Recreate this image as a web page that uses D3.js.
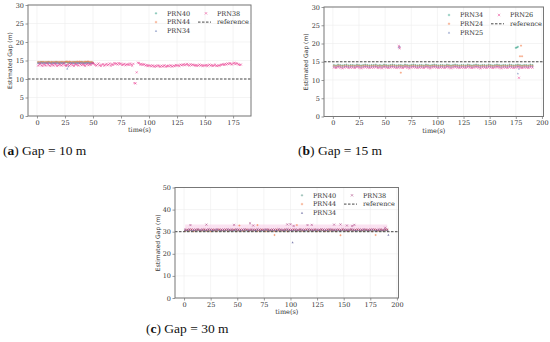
<!DOCTYPE html>
<html>
<head>
<meta charset="utf-8">
<script src="https://cdn.jsdelivr.net/npm/d3@7"></script>
<style>
  body { margin: 0; background: #fff; }
  svg { display: block; }
  .tick text { font-family: "DejaVu Serif", serif; font-size: 6.5px; fill: #333; }
</style>
</head>
<body>
<svg id="fig" width="550" height="342"></svg>
<script>
// ---------------- data ----------------
// (a) Gap = 10 m, sampled every 1 s starting at t = 1
const a_PRN40 = [14.5,14.4,14.5,14.6,14.5,14.5,14.4,14.5,14.5,14.6,14.5,14.4,14.5,14.5,14.4,14.5,14.6,14.5,14.5,14.4,14.5,14.5,14.4,14.5,14.5,14.6,14.5,14.4,14.5,14.5,14.4,14.5,14.5,14.6,14.5,14.5,14.4,14.5,14.5,14.6,14.5,14.4,14.5,14.5,14.6,14.5,14.4,14.5,14.5,14.4];
const a_PRN44 = [14.6,14.5,14.6,14.5,14.6,14.6,14.5,14.6,14.5,14.6,14.6,14.5,14.6,14.5,14.6,14.5,14.6,14.6,14.5,14.6,14.5,14.6,14.6,14.5,14.6,14.7,14.7,14.6,14.7,14.6,14.5,14.6,14.6,14.5,14.6,14.7,14.6,14.7,14.6,14.6,14.5,14.6,14.7,14.6,14.7,14.7,14.6,14.5,14.6,14.4];
const a_PRN34 = [14.3,14.4,14.3,14.4,14.3,14.4,14.4,14.3,14.4,14.3,14.4,14.3,14.2,14.4,14.3,14.4,14.3,14.4,14.3,14.2,14.4,14.3,14.4,14.3,14.4,13.9,12.8,13.4,14.3,14.4,14.3,14.4,14.3,14.2,14.4,14.3,14.4,14.3,14.4,14.3,14.4,14.3,14.2,14.4,14.3,14.4,14.3,14.2,14.3,14.3];
const a_PRN38 = [13.6,13.9,14.1,13.7,13.5,14.0,13.8,13.6,14.2,13.9,
  13.7,13.5,14.0,13.8,13.6,14.1,13.9,13.5,13.7,14.0,
  13.8,13.6,13.9,14.2,13.7,13.5,13.8,14.0,13.6,13.9,
  14.1,13.7,13.5,13.9,14.0,13.8,13.6,14.2,13.9,13.7,
  14.0,13.8,13.5,13.9,14.1,13.7,14.0,13.8,14.2,14.3,
  14.1,13.8,13.6,13.9,14.2,13.7,13.5,13.9,14.0,13.6,
  13.8,14.1,13.7,13.9,14.2,13.6,14.0,13.8,14.3,14.1,
  14.2,13.9,14.3,14.0,14.2,13.8,13.9,14.1,13.7,13.9,
  14.0,13.8,14.2,13.9,13.6,14.1,8.9,8.8,11.8,14.4,
  14.3,13.9,14.1,13.8,14.0,13.9,13.6,13.8,13.5,13.7,
  13.6,13.4,13.7,13.5,13.3,13.6,13.4,13.7,13.5,13.3,
  13.6,13.4,13.5,13.7,13.3,13.5,13.6,13.4,13.7,13.5,
  13.4,13.6,13.5,13.8,13.6,13.7,13.5,13.9,13.7,13.8,
  14.0,13.7,13.9,14.1,13.8,13.6,14.0,13.7,13.9,13.8,
  13.6,13.8,13.5,13.7,13.9,13.6,13.8,13.5,13.7,13.6,
  13.8,13.5,13.7,13.9,13.6,13.8,13.5,13.7,13.9,13.6,
  13.5,13.7,13.6,13.8,13.9,14.0,13.8,14.1,13.9,14.2,
  14.0,14.3,14.1,13.9,14.2,14.4,14.0,14.3,14.1,13.9,
  13.8,13.9];

// (b) Gap = 15 m, every 2 s starting at t = 1
const b_PRN34 = [14.1,14.0,14.2,14.1,14.0,14.1,14.2,14.0,14.1,14.1,14.0,14.2,14.1,14.0,14.1,14.2,14.1,14.0,14.1,14.1,14.2,14.0,14.1,14.0,14.2,14.1,14.0,14.1,14.2,14.1,14.0,14.1,
  14.1,14.0,14.2,14.1,14.0,14.1,14.2,14.1,14.0,14.1,14.1,14.0,14.2,14.1,14.0,14.1,14.2,14.1,14.0,14.1,14.1,14.0,14.2,14.1,14.0,14.1,14.2,14.1,14.0,14.1,14.1,14.0,
  14.2,14.1,14.0,14.1,14.2,14.1,14.0,14.1,14.1,14.0,14.2,14.1,14.0,14.1,14.2,14.1,14.0,14.1,14.1,14.0,14.2,14.1,14.0,14.1,14.2,14.1,14.0,14.1,14.1,14.0,14.2,14.1];
const b_PRN24 = [13.9,13.8,14.0,13.9,13.8,13.9,14.0,13.8,13.9,13.9,13.8,14.0,13.9,13.8,13.9,14.0,13.9,13.8,13.9,13.9,14.0,13.8,13.9,13.8,14.0,13.9,13.8,13.9,14.0,13.9,13.8,13.9,
  13.9,13.8,14.0,13.9,13.8,13.9,14.0,13.9,13.8,13.9,13.9,13.8,14.0,13.9,13.8,13.9,14.0,13.9,13.8,13.9,13.9,13.8,14.0,13.9,13.8,13.9,14.0,13.9,13.8,13.9,13.9,13.8,
  14.0,13.9,13.8,13.9,14.0,13.9,13.8,13.9,13.9,13.8,14.0,13.9,13.8,13.9,14.0,13.9,13.8,13.9,13.9,13.8,14.0,13.9,13.8,13.9,14.0,13.9,13.8,13.9,13.9,13.8,14.0,13.9];
const b_PRN25 = [13.7,13.6,13.8,13.7,13.6,13.7,13.8,13.6,13.7,13.7,13.6,13.8,13.7,13.6,13.7,13.8,13.7,13.6,13.7,13.7,13.8,13.6,13.7,13.6,13.8,13.7,13.6,13.7,13.8,13.7,13.6,13.7,
  13.7,13.6,13.8,13.7,13.6,13.7,13.8,13.7,13.6,13.7,13.7,13.6,13.8,13.7,13.6,13.7,13.8,13.7,13.6,13.7,13.7,13.6,13.8,13.7,13.6,13.7,13.8,13.7,13.6,13.7,13.7,13.6,
  13.8,13.7,13.6,13.7,13.8,13.7,13.6,13.7,13.7,13.6,13.8,13.7,13.6,13.7,13.8,13.7,13.6,13.7,13.7,13.6,13.8,13.7,13.6,13.7,13.8,13.7,13.6,13.7,13.7,13.6,13.8,13.7];
const b_PRN26 = [13.4,13.3,13.5,13.4,13.2,13.4,13.5,13.3,13.4,13.4,13.3,13.5,13.4,13.2,13.4,13.5,13.4,13.3,13.4,13.4,13.5,13.3,13.4,13.2,13.5,13.4,13.3,13.4,13.5,13.4,13.3,13.4,
  13.4,13.3,13.5,13.4,13.2,13.4,13.5,13.4,13.3,13.4,13.4,13.3,13.5,13.4,13.2,13.4,13.5,13.4,13.3,13.4,13.4,13.3,13.5,13.4,13.2,13.4,13.5,13.4,13.3,13.4,13.4,13.3,
  13.5,13.4,13.3,13.4,13.5,13.4,13.2,13.4,13.4,13.3,13.5,13.4,13.3,13.4,13.5,13.4,13.2,13.4,13.4,13.3,13.5,13.4,13.3,13.4,13.5,13.4,13.3,13.4,13.4,13.3,13.5,13.4];
// outliers in (b): [time, value]
const b_PRN34_out = [[175,18.8],[176,18.9],[177,19.1]];
const b_PRN24_out = [[65,12.0],[179,16.5],[180,19.4],[181,16.5]];
const b_PRN25_out = [[63,18.9],[64,19.2],[177,11.8],[178,13.1]];
const b_PRN26_out = [[63,19.3],[64,18.7],[178,10.6]];

// (c) Gap = 30 m, every 2 s starting at t = 1
const c_PRN40 = [30.5,30.4,30.6,30.5,30.4,30.5,30.6,30.4,30.5,30.5,30.4,30.6,30.5,30.4,30.5,30.6,30.5,30.4,30.5,30.5,30.6,30.4,30.5,30.4,30.6,30.5,30.4,30.5,30.6,30.5,30.4,30.5,
  30.5,30.4,30.6,30.5,30.4,30.5,30.6,30.5,30.4,30.5,30.5,30.4,30.6,30.5,30.4,30.5,30.6,30.5,30.4,30.5,30.5,30.4,30.6,30.5,30.4,30.5,30.6,30.5,30.4,30.5,30.5,30.4,
  30.6,30.5,30.4,30.5,30.6,30.5,30.4,30.5,30.5,30.4,30.6,30.5,30.4,30.5,30.6,30.5,30.4,30.5,30.5,30.4,30.6,30.5,30.4,30.5,30.6,30.5,30.4,30.5,30.5,30.4,30.6,30.5];
const c_PRN44 = [30.3,30.8,30.4,30.9,30.2,30.6,30.8,30.3,30.5,30.9,30.4,30.7,30.2,30.8,30.5,30.3,30.9,30.6,30.4,30.8,30.3,30.7,30.5,30.9,30.2,30.6,30.8,30.4,30.5,30.9,30.3,30.7,
  30.4,30.8,30.3,30.6,30.9,30.5,30.2,30.8,30.4,30.7,30.3,30.9,30.5,30.6,30.4,30.8,30.2,30.7,30.5,30.9,30.3,30.6,30.8,30.4,30.5,30.9,30.3,30.7,30.4,30.8,30.2,30.6,
  30.8,30.5,30.3,30.9,30.4,30.7,30.6,30.2,30.8,30.5,30.9,30.4,30.6,30.3,30.8,30.5,30.7,30.9,30.4,30.6,30.3,30.8,30.5,30.7,30.2,30.9,30.6,30.4,30.8,30.5,30.7,30.9];
const c_PRN34 = [30.8,30.7,30.9,30.8,30.7,30.8,30.9,30.7,30.8,30.8,30.7,30.9,30.8,30.7,30.8,30.9,30.8,30.7,30.8,30.8,30.9,30.7,30.8,30.7,30.9,30.8,30.7,30.8,30.9,30.8,30.7,30.8,
  30.8,30.7,30.9,30.8,30.7,30.8,30.9,30.8,30.7,30.8,30.8,30.7,30.9,30.8,30.7,30.8,30.9,30.8,30.7,30.8,30.8,30.7,30.9,30.8,30.7,30.8,30.9,30.8,30.7,30.8,30.8,30.7,
  30.9,30.8,30.7,30.8,30.9,30.8,30.7,30.8,30.8,30.7,30.9,30.8,30.7,30.8,30.9,30.8,30.7,30.8,30.8,30.7,30.9,30.8,30.7,30.8,30.9,30.8,30.7,30.8,30.8,30.7,30.9,30.8];
const c_PRN38 = [31.0,30.9,31.1,31.0,30.9,31.0,31.1,30.9,31.0,31.0,30.9,31.1,31.0,30.9,31.0,31.1,31.0,30.9,31.0,31.0,31.1,30.9,31.0,30.9,31.1,31.0,30.9,31.0,31.1,31.0,30.9,31.0,
  31.0,30.9,31.1,31.0,30.9,31.0,31.1,31.0,30.9,31.0,31.0,30.9,31.1,31.0,30.9,31.0,31.1,31.0,30.9,31.0,31.0,30.9,31.1,31.0,30.9,31.0,31.1,31.0,30.9,31.0,31.0,30.9,
  31.1,31.0,30.9,31.0,31.1,31.0,30.9,31.0,31.0,30.9,31.1,31.0,30.9,31.0,31.1,31.0,30.9,31.0,31.0,30.9,31.1,31.0,30.9,31.0,31.1,31.0,30.9,31.0,31.0,30.9,31.1,31.0];
const c_PRN44_out = [[52,32.8],[69,33.0],[85,28.5],[106,33.0],[147,28.4],[180,28.5]];
const c_PRN34_out = [[102,25.2],[192,28.6]];
const c_PRN38_out = [[6,33.0],[21,33.2],[47,33.1],[62,33.8],[65,32.8],[97,33.3],[100,33.4],[103,32.6],[116,33.0],[120,33.1],[141,33.2],[147,33.3],[153,32.8],[158,32.6],[160,33.1],[189,31.8]];
// shaded spread of PRN38 in (c)
const c_bandTime = [1, 191];
const c_bandLow = [30.5, 30.5];
const c_bandHigh = [33.3, 33.3];

const refValues = [10, 15, 30];
const xTicksA = [0,25,50,75,100,125,150,175];
const xTicksBC = [0,25,50,75,100,125,150,175,200];
const yTicksAB = [0,5,10,15,20,25,30];
const yTicksC = [0,10,20,30,40,50];

// ---------------- drawing ----------------
const svg = d3.select('#fig');
const teal = '#3aa58a', orange = '#f47c4a', slate = '#7f8fc0', pink = '#ea3d91';

function toPoints(vals, t0, dt) {
  return vals.map((v, i) => [t0 + i * dt, v]);
}

function markerPath(pts, x, y, shape, s) {
  let d = '';
  pts.forEach(([t, v]) => {
    const px = x(t), py = y(v);
    if (shape === 'plus') d += `M${px - s},${py}H${px + s}M${px},${py - s}V${py + s}`;
    else if (shape === 'x') d += `M${px - s},${py - s}L${px + s},${py + s}M${px - s},${py + s}L${px + s},${py - s}`;
    else d += `M${px},${py - s}L${px + s},${py + s * 0.8}L${px - s},${py + s * 0.8}Z`;
  });
  return d;
}

function styleMarks(p, s) {
  if (s.shape === 'tri') p.attr('fill', s.color).attr('stroke', 'none');
  else p.attr('fill', 'none').attr('stroke', s.color).attr('stroke-width', 0.6);
  p.attr('opacity', 0.85);
}

function drawPanel(cfg) {
  const g = svg.append('g');
  const x = d3.scaleLinear().domain(cfg.xDomain).range([cfg.left, cfg.right]);
  const y = d3.scaleLinear().domain(cfg.yDomain).range([cfg.bottom, cfg.top]);

  // grid
  g.append('g').selectAll('line').data(cfg.xTicks).join('line')
    .attr('x1', d => x(d)).attr('x2', d => x(d))
    .attr('y1', cfg.top).attr('y2', cfg.bottom)
    .attr('stroke', '#ececec').attr('stroke-width', 0.6);
  g.append('g').selectAll('line').data(cfg.yTicks).join('line')
    .attr('x1', cfg.left).attr('x2', cfg.right)
    .attr('y1', d => y(d)).attr('y2', d => y(d))
    .attr('stroke', '#ececec').attr('stroke-width', 0.6);

  if (cfg.band) {
    const area = d3.area().x(d => x(d[0])).y0(d => y(d[1])).y1(d => y(d[2]));
    g.append('path')
      .attr('d', area(cfg.band.t.map((t, i) => [t, cfg.band.lo[i], cfg.band.hi[i]])))
      .attr('fill', '#f7cbe6').attr('opacity', 0.55);
  }

  cfg.series.forEach(s => {
    const pts = toPoints(s.values, s.t0, s.dt).concat(s.out || []);
    styleMarks(g.append('path').attr('d', markerPath(pts, x, y, s.shape, 1.05)), s);
  });

  // reference line
  g.append('line')
    .attr('x1', cfg.left).attr('x2', cfg.right)
    .attr('y1', y(cfg.ref)).attr('y2', y(cfg.ref))
    .attr('stroke', '#333').attr('stroke-width', 0.9).attr('stroke-dasharray', '2.5,1.5');

  // axes
  const xAxis = g.append('g').attr('transform', `translate(0,${cfg.bottom})`)
    .call(d3.axisBottom(x).tickValues(cfg.xTicks).tickSize(2.5).tickPadding(1.5));
  const yAxis = g.append('g').attr('transform', `translate(${cfg.left},0)`)
    .call(d3.axisLeft(y).tickValues(cfg.yTicks).tickSize(2.5).tickPadding(1.5));
  [xAxis, yAxis].forEach(a => {
    a.select('.domain').remove();
    a.selectAll('.tick line').attr('stroke', '#555').attr('stroke-width', 0.6);
  });

  // frame
  g.append('rect')
    .attr('x', cfg.left).attr('y', cfg.top)
    .attr('width', cfg.right - cfg.left).attr('height', cfg.bottom - cfg.top)
    .attr('fill', 'none').attr('stroke', '#777').attr('stroke-width', 1);

  // labels
  g.append('text').attr('x', (cfg.left + cfg.right) / 2).attr('y', cfg.bottom + 16)
    .attr('text-anchor', 'middle').attr('font-family', 'DejaVu Serif, serif')
    .attr('font-size', 6.5).attr('fill', '#333').text('time(s)');
  g.append('text')
    .attr('transform', `translate(${cfg.yLabelX},${(cfg.top + cfg.bottom) / 2}) rotate(-90)`)
    .attr('text-anchor', 'middle').attr('font-family', 'DejaVu Sans, sans-serif')
    .attr('font-size', 6).attr('fill', '#333').text('Estimated Gap (m)');

  // legend: 3 rows in col 1, then col 2
  const entries = cfg.series.map(s => ({ label: s.name, color: s.color, shape: s.shape }))
    .concat([{ label: 'reference', shape: 'dash' }]);
  entries.forEach((e, i) => {
    const col = i < 3 ? 0 : 1, row = i < 3 ? i : i - 3;
    const mx = cfg.legX + col * cfg.legColW, my = cfg.legY + row * 8.8;
    if (e.shape === 'dash') {
      g.append('line').attr('x1', mx - 8).attr('x2', mx + 5).attr('y1', my).attr('y2', my)
        .attr('stroke', '#333').attr('stroke-width', 0.9).attr('stroke-dasharray', '2.5,1.5');
    } else {
      const lx = d3.scaleLinear().domain([0, 1]).range([mx, mx + 1]);
      const ly = d3.scaleLinear().domain([0, 1]).range([my, my + 1]);
      styleMarks(g.append('path').attr('d', markerPath([[0, 0]], lx, ly, e.shape, 1.2)), e);
    }
    g.append('text').attr('x', mx + 11).attr('y', my + 2.3)
      .attr('font-family', 'DejaVu Serif, serif').attr('font-size', 6.5).attr('fill', '#333')
      .text(e.label);
  });

  // caption
  const cap = svg.append('text').attr('x', cfg.capX).attr('y', cfg.capY)
    .attr('font-family', 'Liberation Serif, serif').attr('font-size', 13.5).attr('fill', '#111');
  cap.append('tspan').text('(');
  cap.append('tspan').attr('font-weight', 'bold').text(cfg.capLetter);
  cap.append('tspan').text(') ' + cfg.caption);
}

drawPanel({
  left: 28, right: 251, top: 5, bottom: 116,
  xDomain: [-8, 191], yDomain: [0, 30], xTicks: xTicksA, yTicks: yTicksAB,
  ref: refValues[0], yLabelX: 12,
  legX: 156, legY: 13.3, legColW: 50,
  series: [
    { name: 'PRN40', values: a_PRN40, t0: 1, dt: 1, color: teal, shape: 'plus' },
    { name: 'PRN44', values: a_PRN44, t0: 1, dt: 1, color: orange, shape: 'plus' },
    { name: 'PRN34', values: a_PRN34, t0: 1, dt: 1, color: slate, shape: 'tri' },
    { name: 'PRN38', values: a_PRN38, t0: 1, dt: 1, color: pink, shape: 'x' }
  ],
  capX: 3, capY: 155, capLetter: 'a', caption: 'Gap = 10 m'
});

drawPanel({
  left: 324, right: 543.5, top: 7, bottom: 116.5,
  xDomain: [-8.5, 201.5], yDomain: [0, 30], xTicks: xTicksBC, yTicks: yTicksAB,
  ref: refValues[1], yLabelX: 308,
  legX: 449, legY: 15, legColW: 50,
  series: [
    { name: 'PRN34', values: b_PRN34, t0: 1, dt: 2, out: b_PRN34_out, color: teal, shape: 'plus' },
    { name: 'PRN24', values: b_PRN24, t0: 1, dt: 2, out: b_PRN24_out, color: orange, shape: 'plus' },
    { name: 'PRN25', values: b_PRN25, t0: 1, dt: 2, out: b_PRN25_out, color: slate, shape: 'tri' },
    { name: 'PRN26', values: b_PRN26, t0: 1, dt: 2, out: b_PRN26_out, color: pink, shape: 'x' }
  ],
  capX: 298, capY: 155, capLetter: 'b', caption: 'Gap = 15 m'
});

drawPanel({
  left: 175, right: 398.5, top: 187.5, bottom: 298,
  xDomain: [-8.5, 201.5], yDomain: [0, 50], xTicks: xTicksBC, yTicks: yTicksC,
  ref: refValues[2], yLabelX: 160,
  legX: 302, legY: 195.3, legColW: 50,
  band: { t: c_bandTime, lo: c_bandLow, hi: c_bandHigh },
  series: [
    { name: 'PRN40', values: c_PRN40, t0: 1, dt: 2, color: '#5c9a8a', shape: 'plus' },
    { name: 'PRN44', values: c_PRN44, t0: 1, dt: 2, out: c_PRN44_out, color: orange, shape: 'plus' },
    { name: 'PRN34', values: c_PRN34, t0: 1, dt: 2, out: c_PRN34_out, color: '#6d6fa3', shape: 'tri' },
    { name: 'PRN38', values: c_PRN38, t0: 1, dt: 2, out: c_PRN38_out, color: '#a8407f', shape: 'x' }
  ],
  capX: 146, capY: 333, capLetter: 'c', caption: 'Gap = 30 m'
});
</script>
</body>
</html>
